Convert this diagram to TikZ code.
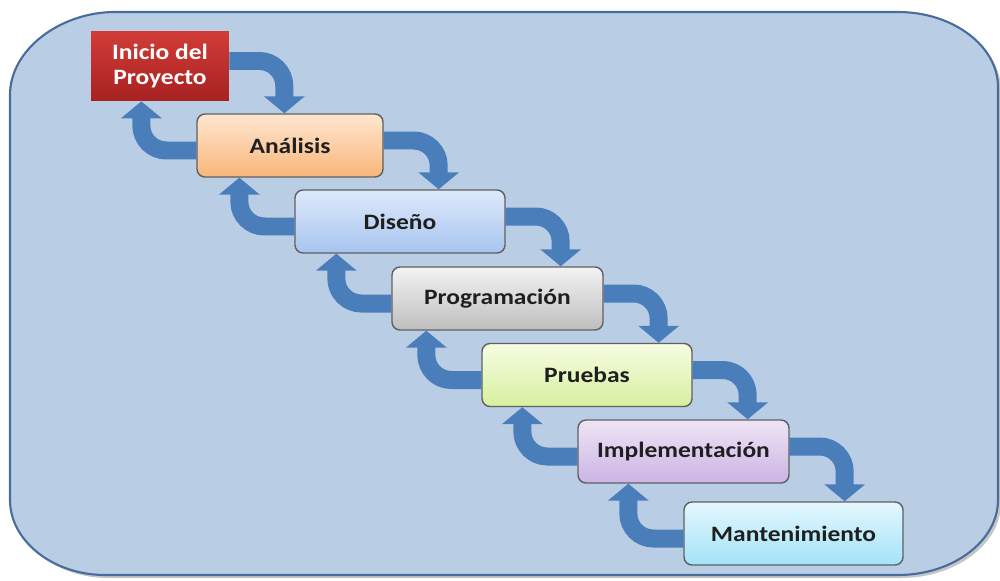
\documentclass[tikz,border=0pt]{standalone}
\usepackage{fontspec}
\setmainfont{Carlito}[FakeStretch=1.16]
\usetikzlibrary{arrows.meta,shadows}
\definecolor{fondo}{RGB}{185,205,229}
\definecolor{borde}{RGB}{72,108,155}
\definecolor{azul}{RGB}{74,126,187}

\begin{document}
\begin{tikzpicture}[x=0.02cm,y=-0.02cm,
    etapa/.style={draw=gray!75!black,line width=0.8pt,rounded corners=0.16cm,
                  minimum height=1.26cm,text=black!88,
                  font=\bfseries\fontsize{12.5}{15}\selectfont},
    flecha/.style={draw=azul,line width=0.36cm,rounded corners=0.5cm,
                   -{Triangle[width=0.8cm,length=0.34cm]}}]

  \useasboundingbox (0,0) rectangle (1000,581);

  \draw[fill=fondo,draw=borde,line width=1.2pt,
        drop shadow={shadow xshift=0.06cm,shadow yshift=-0.06cm,opacity=0.45}]
    (115,12) -- (898,12) .. controls (953,12) and (998,46) .. (998,87)
    -- (998,500) .. controls (998,541) and (953,575) .. (898,575)
    -- (105,575) .. controls (53,575) and (10,541) .. (10,500)
    -- (10,95) .. controls (10,49) and (61,12) .. (115,12) -- cycle;

  \node[minimum width=2.76cm,minimum height=1.4cm,top color={rgb,255:red,210;green,60;blue,56},
        bottom color={rgb,255:red,166;green,34;blue,33},text=white,align=center,
        font=\bfseries\fontsize{12.5}{14}\selectfont] (I) at (160,66) {Inicio del\\Proyecto};
  \node[etapa,minimum width=3.72cm,top color={rgb,255:red,254;green,230;blue,208},
        bottom color={rgb,255:red,249;green,182;blue,122}] (A) at (290,145.5) {Análisis};
  \node[etapa,minimum width=4.2cm,top color={rgb,255:red,222;green,233;blue,250},
        bottom color={rgb,255:red,166;green,196;blue,240}] (D) at (400,221.5) {Diseño};
  \node[etapa,minimum width=4.22cm,top color={rgb,255:red,243;green,243;blue,243},
        bottom color={rgb,255:red,190;green,190;blue,190}] (P) at (497.5,298.5) {Programación};
  \node[etapa,minimum width=4.2cm,top color={rgb,255:red,246;green,252;blue,226},
        bottom color={rgb,255:red,214;green,240;blue,158}] (U) at (587,375) {Pruebas};
  \node[etapa,minimum width=4.22cm,top color={rgb,255:red,238;green,228;blue,245},
        bottom color={rgb,255:red,204;green,180;blue,228}] (E) at (683.5,451.5) {Implementación};
  \node[etapa,minimum width=4.38cm,top color={rgb,255:red,228;green,247;blue,253},
        bottom color={rgb,255:red,162;green,227;blue,248}] (M) at (793.5,533.5) {Mantenimiento};

  \foreach \a/\b in {I/A,A/D,D/P,P/U,U/E,E/M}{
    \coordinate (r) at ([xshift=1.1cm]\a.east);
    \coordinate (l) at ([xshift=-1.1cm]\b.west);
    \draw[flecha] ([yshift=0.1cm]\a.east) -| (r |- \b.north);
    \draw[flecha] ([yshift=-0.1cm]\b.west) -| (l |- \a.south);
  }
\end{tikzpicture}
\end{document}
